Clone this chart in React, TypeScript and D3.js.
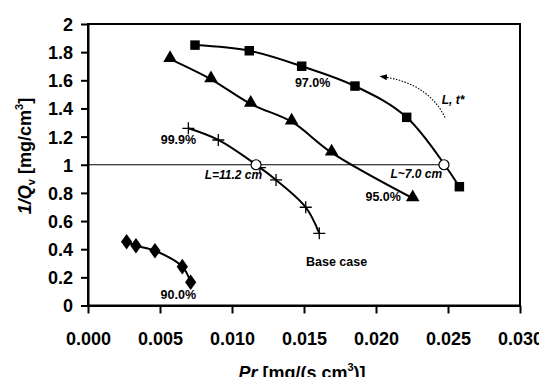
import React, { useEffect, useRef } from 'react';
import * as d3 from 'd3';

// 97.0% purity (squares)
const sq = [
  { x: 0.00743, y: 1.85 },
  { x: 0.0112, y: 1.81 },
  { x: 0.01484, y: 1.7 },
  { x: 0.01854, y: 1.559 },
  { x: 0.02213, y: 1.337 },
  { x: 0.02579, y: 0.844 },
];
// 95.0% (triangles)
const tri = [
  { x: 0.0057, y: 1.75 },
  { x: 0.00854, y: 1.607 },
  { x: 0.0113, y: 1.432 },
  { x: 0.01414, y: 1.306 },
  { x: 0.01692, y: 1.086 },
  { x: 0.02255, y: 0.762 },
];
// 99.9% base case (crosses)
const base = [
  { x: 0.00697, y: 1.259 },
  { x: 0.00905, y: 1.176 },
  { x: 0.01194, y: 0.98 },
  { x: 0.01306, y: 0.892 },
  { x: 0.01512, y: 0.698 },
  { x: 0.01606, y: 0.513 },
];
// 90.0% (diamonds)
const dia = [
  { x: 0.00268, y: 0.453 },
  { x: 0.00333, y: 0.425 },
  { x: 0.00465, y: 0.389 },
  { x: 0.00655, y: 0.276 },
  { x: 0.00713, y: 0.165 },
];
// open circles where Q = 1
const circles = [
  { x: 0.01167, y: 1.0 },
  { x: 0.02472, y: 1.0 },
];
const xTicks = [0, 0.005, 0.01, 0.015, 0.02, 0.025, 0.03];
const yTicks = [0, 0.2, 0.4, 0.6, 0.8, 1, 1.2, 1.4, 1.6, 1.8, 2];
const labels = [
  { x: 0.0156, y: 1.585, t: '97.0%' },
  { x: 0.0205, y: 0.775, t: '95.0%' },
  { x: 0.00628, y: 1.175, t: '99.9%' },
  { x: 0.01726, y: 0.31, t: 'Base case' },
  { x: 0.00627, y: 0.075, t: '90.0%' },
];
const italicLabels = [
  { x: 0.0101, y: 0.93, t: 'L=11.2 cm' },
  { x: 0.0228, y: 0.935, t: 'L~7.0 cm' },
  { x: 0.02535, y: 1.465, t: 'L, t*' },
];

const App = () => {
  const svgRef = useRef<SVGSVGElement>(null);

  useEffect(() => {
    const width = 547;
    const height = 385;
    const margin = { top: 24, right: 27, bottom: 79.5, left: 88 };
    const font = '"Liberation Sans", Arial, sans-serif';

    const svg = d3.select(svgRef.current).attr('width', width).attr('height', height);
    svg.selectAll('*').remove();

    const x = d3.scaleLinear().domain([0, 0.03]).range([margin.left, width - margin.right]);
    const y = d3.scaleLinear().domain([0, 2]).range([height - margin.bottom, margin.top]);

    // frame
    svg.append('rect')
      .attr('x', x(0)).attr('y', y(2))
      .attr('width', x(0.03) - x(0)).attr('height', y(0) - y(2))
      .attr('fill', 'none').attr('stroke', '#000').attr('stroke-width', 2);

    // axes
    const xAxis = svg.append('g').attr('transform', `translate(0,${y(0)})`)
      .call(d3.axisBottom(x).tickValues(xTicks).tickFormat(d3.format('.3f')).tickSize(8).tickSizeOuter(0));
    const yAxis = svg.append('g').attr('transform', `translate(${x(0)},0)`)
      .call(d3.axisLeft(y).tickValues(yTicks).tickFormat((d) => String(+d)).tickSize(7).tickSizeOuter(0));
    [xAxis, yAxis].forEach((g) => {
      g.select('.domain').attr('stroke-width', 2);
      g.selectAll('.tick line').attr('stroke-width', 2);
      g.selectAll('.tick text')
        .attr('font-family', font).attr('font-weight', 'bold').attr('font-size', 18).attr('fill', '#000');
    });
    xAxis.selectAll('.tick text').attr('dy', 0).attr('y', 39);
    yAxis.selectAll('.tick text').attr('x', -15).attr('dy', '0.36em');

    // y = 1 reference line
    svg.append('line')
      .attr('x1', x(0)).attr('x2', x(circles[1].x))
      .attr('y1', y(1)).attr('y2', y(1))
      .attr('stroke', '#000').attr('stroke-width', 1);

    const line = d3.line<{ x: number; y: number }>()
      .x((d) => x(d.x)).y((d) => y(d.y))
      .curve(d3.curveCatmullRom.alpha(0.5));

    [sq, tri, base, dia].forEach((s) => {
      svg.append('path').datum(s).attr('d', line)
        .attr('fill', 'none').attr('stroke', '#000').attr('stroke-width', 2);
    });

    // markers
    svg.append('g').selectAll('path').data(sq).join('path')
      .attr('d', d3.symbol(d3.symbolSquare, 90))
      .attr('transform', (d) => `translate(${x(d.x)},${y(d.y)})`).attr('fill', '#000');
    svg.append('g').selectAll('path').data(tri).join('path')
      .attr('d', d3.symbol(d3.symbolTriangle, 80))
      .attr('transform', (d) => `translate(${x(d.x)},${y(d.y) - 1})`).attr('fill', '#000');
    svg.append('g').selectAll('path').data(dia).join('path')
      .attr('d', d3.symbol(d3.symbolDiamond, 70))
      .attr('transform', (d) => `translate(${x(d.x)},${y(d.y)}) scale(1.25,1)`).attr('fill', '#000');
    svg.append('g').selectAll('path').data(base).join('path')
      .attr('d', 'M-6,0H6M0,-6V6')
      .attr('transform', (d) => `translate(${x(d.x)},${y(d.y)})`)
      .attr('stroke', '#000').attr('stroke-width', 1.3).attr('fill', 'none');
    svg.append('g').selectAll('circle').data(circles).join('circle')
      .attr('cx', (d) => x(d.x)).attr('cy', (d) => y(d.y)).attr('r', 5)
      .attr('fill', '#fff').attr('stroke', '#000').attr('stroke-width', 1.2);

    // labels
    svg.append('g').selectAll('text').data(labels).join('text')
      .attr('x', (d) => x(d.x)).attr('y', (d) => y(d.y)).attr('dy', '0.35em')
      .attr('text-anchor', 'middle').attr('font-family', font).attr('font-weight', 'bold')
      .attr('font-size', 12.5).text((d) => d.t);
    svg.append('g').selectAll('text').data(italicLabels).join('text')
      .attr('x', (d) => x(d.x)).attr('y', (d) => y(d.y)).attr('dy', '0.35em')
      .attr('text-anchor', 'middle').attr('font-family', font).attr('font-weight', 'bold')
      .attr('font-style', 'italic').attr('font-size', 12).text((d) => d.t);

    // dotted arrow (L, t* increasing)
    svg.append('defs').append('marker')
      .attr('id', 'ah').attr('viewBox', '0 0 10 10').attr('refX', 5).attr('refY', 5)
      .attr('markerWidth', 7).attr('markerHeight', 7).attr('orient', 'auto-start-reverse')
      .append('path').attr('d', 'M0,1L10,5L0,9z').attr('fill', '#000');
    const arrow = d3.path();
    arrow.moveTo(x(0.0248), y(1.335));
    arrow.quadraticCurveTo(x(0.0236), y(1.58), x(0.0205), y(1.625));
    svg.append('path').attr('d', arrow.toString())
      .attr('fill', 'none').attr('stroke', '#000').attr('stroke-width', 1.1)
      .attr('stroke-dasharray', '1.5,1.5').attr('marker-end', 'url(#ah)');

    // axis titles
    const xt = svg.append('text')
      .attr('x', 302).attr('y', 379).attr('text-anchor', 'middle')
      .attr('font-family', font).attr('font-weight', 'bold').attr('font-size', 18);
    xt.append('tspan').attr('font-style', 'italic').text('Pr');
    xt.append('tspan').text('  [mg/(s cm');
    xt.append('tspan').attr('font-size', 11).attr('dy', -8).text('3');
    xt.append('tspan').attr('dy', 8).text(')]');

    const yt = svg.append('text')
      .attr('transform', 'translate(31,156) rotate(-90)').attr('text-anchor', 'middle')
      .attr('font-family', font).attr('font-weight', 'bold').attr('font-size', 18);
    yt.append('tspan').attr('font-style', 'italic').text('1/Q');
    yt.append('tspan').attr('font-size', 11).attr('dy', 4).text('v');
    yt.append('tspan').attr('dy', -4).text('  [mg/cm');
    yt.append('tspan').attr('font-size', 11).attr('dy', -8).text('3');
    yt.append('tspan').attr('dy', 8).text(']');
  }, []);

  return (
    <div style={{ margin: -8 }}>
      <svg ref={svgRef} style={{ display: 'block' }}></svg>
    </div>
  );
};

export default App;
